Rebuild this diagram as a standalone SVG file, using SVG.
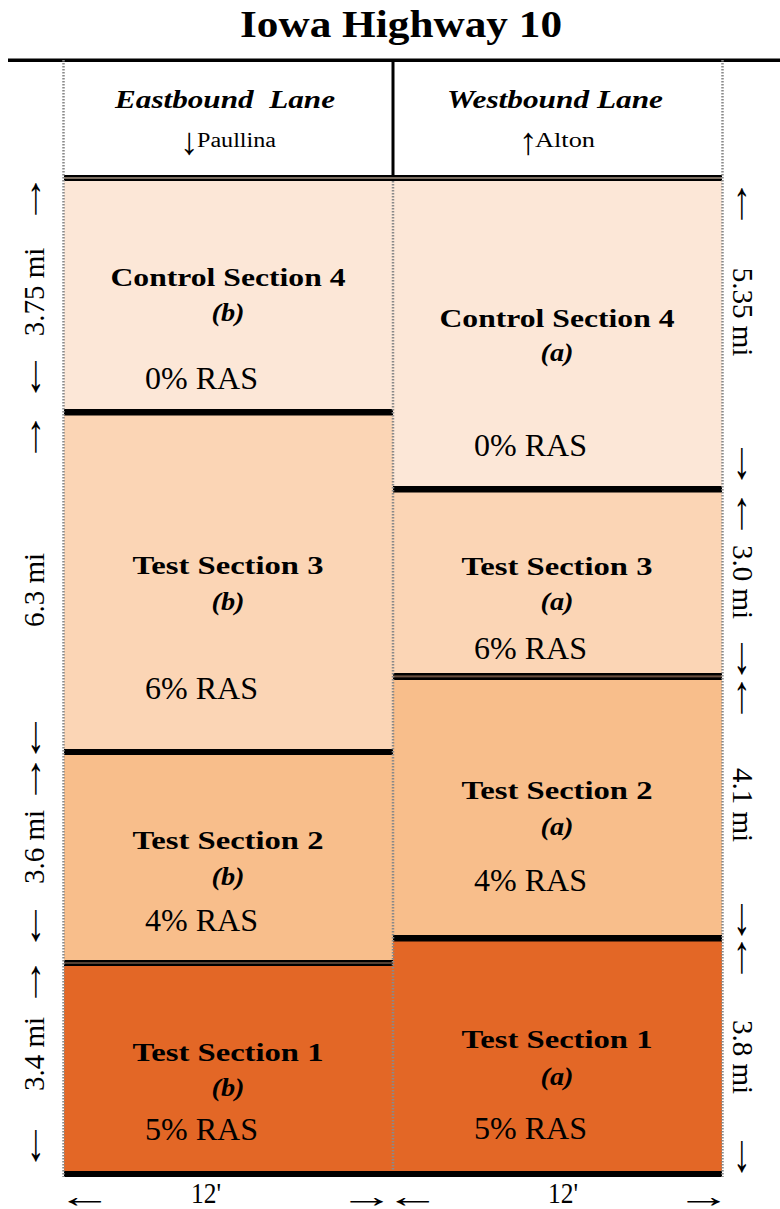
<svg xmlns="http://www.w3.org/2000/svg" width="780" height="1209" viewBox="0 0 780 1209">
<style>
text{font-family:"Liberation Serif","Times New Roman",serif;fill:#000}
.title{font-size:38px;font-weight:bold;text-anchor:middle}
.lane{font-size:25px;font-weight:bold;font-style:italic;text-anchor:middle}
.dir{font-size:20px}
.sec{font-size:26px;font-weight:bold;text-anchor:middle}
.sub{font-size:25px;font-weight:bold;font-style:italic;text-anchor:middle}
.ras{font-size:31px}
.dim{font-size:29px;text-anchor:middle}
.arr{font-size:29px;text-anchor:middle;dominant-baseline:central}
.c4{fill:#FCE7D7}.t3{fill:#FBD5B5}.t2{fill:#F8BE8B}.t1{fill:#E36726}
.bar{fill:#000}
.dot{stroke:#8a8a8a;stroke-width:2.5;stroke-dasharray:1.5 1.5;fill:none}
</style>
<text class="title" x="401" y="37" textLength="322" lengthAdjust="spacingAndGlyphs">Iowa Highway 10</text>
<rect x="8" y="58.5" width="772" height="3.5" class="bar"/>
<g id="header">
<rect x="64" y="62" width="658" height="113" fill="#fff"/>
<rect x="391.5" y="60" width="3" height="116" class="bar"/>
<text class="lane" x="225" y="108" xml:space="preserve" textLength="220" lengthAdjust="spacingAndGlyphs">Eastbound  Lane</text>
<text class="dir" y="147"><tspan x="189" text-anchor="middle" font-size="38" dy="7">↓</tspan><tspan x="197" dy="-7" textLength="79" lengthAdjust="spacingAndGlyphs">Paullina</tspan></text>
<text class="lane" x="555" y="108" textLength="216" lengthAdjust="spacingAndGlyphs">Westbound Lane</text>
<text class="dir" y="147"><tspan x="528" text-anchor="middle" font-size="38" dy="7">↑</tspan><tspan x="535" dy="-7" textLength="60" lengthAdjust="spacingAndGlyphs">Alton</tspan></text>
</g>
<g id="left-c4">
<rect class="c4" x="64" y="181" width="329" height="228"/>
<text class="sec" x="228" y="286" textLength="235" lengthAdjust="spacingAndGlyphs">Control Section 4</text>
<text class="sub" x="228" y="321" textLength="33" lengthAdjust="spacingAndGlyphs">(b)</text>
<text class="ras" x="145" y="389" textLength="113" lengthAdjust="spacingAndGlyphs">0% RAS</text>
</g>
<g id="left-t3">
<rect class="t3" x="64" y="415" width="329" height="334"/>
<text class="sec" x="228" y="574" textLength="191" lengthAdjust="spacingAndGlyphs">Test Section 3</text>
<text class="sub" x="228" y="610" textLength="33" lengthAdjust="spacingAndGlyphs">(b)</text>
<text class="ras" x="145" y="699" textLength="113" lengthAdjust="spacingAndGlyphs">6% RAS</text>
</g>
<g id="left-t2">
<rect class="t2" x="64" y="755" width="329" height="205"/>
<text class="sec" x="228" y="849" textLength="191" lengthAdjust="spacingAndGlyphs">Test Section 2</text>
<text class="sub" x="228" y="885" textLength="33" lengthAdjust="spacingAndGlyphs">(b)</text>
<text class="ras" x="145" y="931" textLength="113" lengthAdjust="spacingAndGlyphs">4% RAS</text>
</g>
<g id="left-t1">
<rect class="t1" x="64" y="966" width="329" height="206"/>
<text class="sec" x="228" y="1061" textLength="191" lengthAdjust="spacingAndGlyphs">Test Section 1</text>
<text class="sub" x="228" y="1096" textLength="33" lengthAdjust="spacingAndGlyphs">(b)</text>
<text class="ras" x="145" y="1140" textLength="113" lengthAdjust="spacingAndGlyphs">5% RAS</text>
</g>
<g id="right-c4">
<rect class="c4" x="393" y="181" width="329" height="305"/>
<text class="sec" x="557" y="327" textLength="235" lengthAdjust="spacingAndGlyphs">Control Section 4</text>
<text class="sub" x="557" y="361" textLength="33" lengthAdjust="spacingAndGlyphs">(a)</text>
<text class="ras" x="474" y="456" textLength="113" lengthAdjust="spacingAndGlyphs">0% RAS</text>
</g>
<g id="right-t3">
<rect class="t3" x="393" y="492" width="329" height="181"/>
<text class="sec" x="557" y="575" textLength="191" lengthAdjust="spacingAndGlyphs">Test Section 3</text>
<text class="sub" x="557" y="610" textLength="33" lengthAdjust="spacingAndGlyphs">(a)</text>
<text class="ras" x="474" y="659" textLength="113" lengthAdjust="spacingAndGlyphs">6% RAS</text>
</g>
<g id="right-t2">
<rect class="t2" x="393" y="680" width="329" height="255"/>
<text class="sec" x="557" y="799" textLength="191" lengthAdjust="spacingAndGlyphs">Test Section 2</text>
<text class="sub" x="557" y="835" textLength="33" lengthAdjust="spacingAndGlyphs">(a)</text>
<text class="ras" x="474" y="891" textLength="113" lengthAdjust="spacingAndGlyphs">4% RAS</text>
</g>
<g id="right-t1">
<rect class="t1" x="393" y="941" width="329" height="231"/>
<text class="sec" x="557" y="1048" textLength="191" lengthAdjust="spacingAndGlyphs">Test Section 1</text>
<text class="sub" x="557" y="1085" textLength="33" lengthAdjust="spacingAndGlyphs">(a)</text>
<text class="ras" x="474" y="1139" textLength="113" lengthAdjust="spacingAndGlyphs">5% RAS</text>
</g>
<g id="dividers">
<rect x="64" y="175" width="658" height="6" fill="#9a8a7a"/>
<rect x="64" y="175" width="658" height="2.2" class="bar"/>
<rect x="64" y="178.8" width="658" height="2.2" class="bar"/>
<rect x="64" y="409" width="329" height="6.5" class="bar"/>
<rect x="64" y="749" width="329" height="6" class="bar"/>
<rect x="64" y="960" width="329" height="6" fill="#6a5040"/>
<rect x="64" y="960" width="329" height="2.2" class="bar"/>
<rect x="64" y="963.8" width="329" height="2.2" class="bar"/>
<rect x="393" y="486" width="329" height="6.5" class="bar"/>
<rect x="393" y="673" width="329" height="7" fill="#6a5040"/>
<rect x="393" y="673" width="329" height="2.4" class="bar"/>
<rect x="393" y="677.4" width="329" height="2.6" class="bar"/>
<rect x="393" y="935" width="329" height="6.5" class="bar"/>
<rect x="64" y="1171" width="658" height="6" class="bar"/>
<line class="dot" x1="63.5" y1="60" x2="63.5" y2="1177"/>
<line class="dot" x1="722.5" y1="60" x2="722.5" y2="1177"/>
<line class="dot" x1="393" y1="181" x2="393" y2="1171"/>
</g>
<g id="dimensions">
<text class="arr" transform="translate(36,195) scale(1.2,1.85)">↑</text>
<text class="dim" transform="translate(44,292) rotate(-90)">3.75 mi</text>
<text class="arr" transform="translate(36,373) scale(1.2,1.85)">↓</text>
<text class="arr" transform="translate(36,433) scale(1.2,1.85)">↑</text>
<text class="dim" transform="translate(44,590) rotate(-90)">6.3 mi</text>
<text class="arr" transform="translate(36,734) scale(1.2,1.85)">↓</text>
<text class="arr" transform="translate(36,775) scale(1.2,1.85)">↑</text>
<text class="dim" transform="translate(44,847) rotate(-90)">3.6 mi</text>
<text class="arr" transform="translate(36,922) scale(1.2,1.85)">↓</text>
<text class="arr" transform="translate(36,978) scale(1.2,1.85)">↑</text>
<text class="dim" transform="translate(44,1054) rotate(-90)">3.4 mi</text>
<text class="arr" transform="translate(36,1142) scale(1.2,1.85)">↓</text>
<text class="arr" transform="translate(742,200) scale(1.2,1.85)">↑</text>
<text class="dim" transform="translate(733,312) rotate(90)">5.35 mi</text>
<text class="arr" transform="translate(742,460) scale(1.2,1.85)">↓</text>
<text class="arr" transform="translate(742,510) scale(1.2,1.85)">↑</text>
<text class="dim" transform="translate(733,582) rotate(90)">3.0 mi</text>
<text class="arr" transform="translate(742,655) scale(1.2,1.85)">↓</text>
<text class="arr" transform="translate(742,694) scale(1.2,1.85)">↑</text>
<text class="dim" transform="translate(733,805) rotate(90)">4.1 mi</text>
<text class="arr" transform="translate(742,916) scale(1.2,1.85)">↓</text>
<text class="arr" transform="translate(742,954) scale(1.2,1.85)">↑</text>
<text class="dim" transform="translate(733,1057) rotate(90)">3.8 mi</text>
<text class="arr" transform="translate(742,1153) scale(1.2,1.85)">↓</text>
<text class="arr" transform="translate(85,1196) scale(1.9,1.1)">←</text>
<text class="dim" x="206" y="1203" font-size="26" textLength="30" lengthAdjust="spacingAndGlyphs">12'</text>
<text class="arr" transform="translate(367,1196) scale(1.9,1.1)">→</text>
<text class="arr" transform="translate(413,1196) scale(1.9,1.1)">←</text>
<text class="dim" x="563" y="1203" font-size="26" textLength="30" lengthAdjust="spacingAndGlyphs">12'</text>
<text class="arr" transform="translate(704,1196) scale(1.9,1.1)">→</text>
</g>
</svg>
